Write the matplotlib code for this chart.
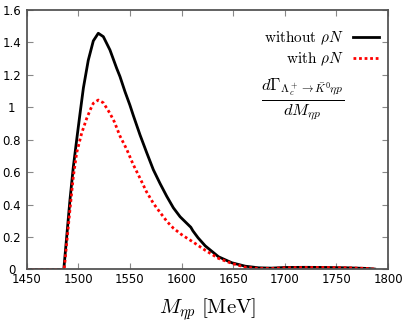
import numpy as np
import matplotlib
matplotlib.use("Agg")
import matplotlib.pyplot as plt

plt.rcParams['mathtext.fontset'] = 'cm'

# invariant mass M_eta p [MeV] and dGamma/dM
m_black = [1450, 1486, 1488.8, 1492, 1495.2, 1498.5, 1501.7, 1505, 1509.7, 1514.6,
           1519.4, 1524.3, 1530.7, 1537.2, 1540.4, 1545.3, 1550, 1553.3, 1559.8, 1566.3,
           1572.7, 1579.2, 1585.6, 1592.1, 1598.6, 1605, 1609, 1611, 1616, 1623,
           1635.8, 1648.7, 1661.6, 1674.5, 1687, 1700, 1720, 1740, 1760, 1780, 1787]
without_rhoN = [0, 0, 0.2, 0.43, 0.63, 0.8, 0.96, 1.12, 1.29, 1.41,
                1.457, 1.436, 1.354, 1.241, 1.19, 1.096, 1.014, 0.95, 0.83, 0.72,
                0.615, 0.53, 0.452, 0.38, 0.325, 0.285, 0.26, 0.238, 0.195, 0.145,
                0.078, 0.041, 0.02, 0.01, 0.008, 0.012, 0.013, 0.012, 0.01, 0.006, 0.002]

m_red = [1450, 1486.4, 1489.4, 1492, 1495.2, 1498.5, 1503.3, 1508.1, 1512, 1514.6,
         1519.4, 1524.3, 1530.7, 1535, 1540.4, 1547, 1553, 1560, 1566, 1573,
         1580, 1586, 1592, 1600, 1606, 1611, 1616, 1623, 1635.8, 1648.7,
         1661.6, 1674.5, 1687, 1700, 1720, 1740, 1760, 1780, 1787]
with_rhoN = [0, 0, 0.2, 0.37, 0.57, 0.72, 0.84, 0.93, 0.99, 1.025,
             1.045, 1.028, 0.963, 0.91, 0.823, 0.74, 0.65, 0.56, 0.48, 0.405,
             0.345, 0.295, 0.255, 0.215, 0.19, 0.17, 0.148, 0.118, 0.068, 0.037,
             0.014, 0.006, 0.006, 0.01, 0.012, 0.012, 0.01, 0.006, 0.002]

xticks = [1450, 1500, 1550, 1600, 1650, 1700, 1750, 1800]
yticks = [0, 0.2, 0.4, 0.6, 0.8, 1, 1.2, 1.4, 1.6]
yticklabels = ['0', '0.2', '0.4', '0.6', '0.8', '1', '1.2', '1.4', '1.6']

fig = plt.figure(figsize=(4.09, 3.25), dpi=100)
ax = fig.add_axes([0.065, 0.171, 0.884, 0.798])

ax.plot(m_black, without_rhoN, color='black', lw=2.0,
        label=r'$\mathrm{without}\ \rho N$')
ax.plot(m_red, with_rhoN, color='red', lw=2.0, linestyle=(0, (1, 1)),
        label=r'$\mathrm{with}\ \rho N$')

ax.set_xlim(1450, 1800)
ax.set_ylim(0, 1.6)
ax.set_xticks(xticks)
ax.set_yticks(yticks)
ax.set_yticklabels(yticklabels, ha='center')
ax.tick_params(direction='in', top=True, right=True, length=4, width=0.8,
               color='#888888', labelsize=8.5)
# y labels are centred in the left margin
ax.tick_params(axis='y', pad=10.8)
ax.tick_params(axis='x', pad=2.4)
for s in ax.spines.values():
    s.set_color('#555555')
    s.set_linewidth(1.3)

ax.set_xlabel(r'$M_{\eta p}\ [\mathrm{MeV}]$', fontsize=15, labelpad=8)

leg = ax.legend(loc='upper right', bbox_to_anchor=(0.999, 0.96), frameon=False,
                markerfirst=False, fontsize=11, handlelength=1.7,
                handletextpad=0.6, labelspacing=0.25, borderaxespad=0.2)
for t in leg.get_texts():
    t.set_ha('right')

ax.text(1717, 1.045,
        r'$\frac{d\Gamma_{\Lambda_c^+\to\bar{K}^0\eta p}}{dM_{\eta p}}$',
        fontsize=17, ha='center', va='center')

fig.savefig('out.png', dpi=100)
